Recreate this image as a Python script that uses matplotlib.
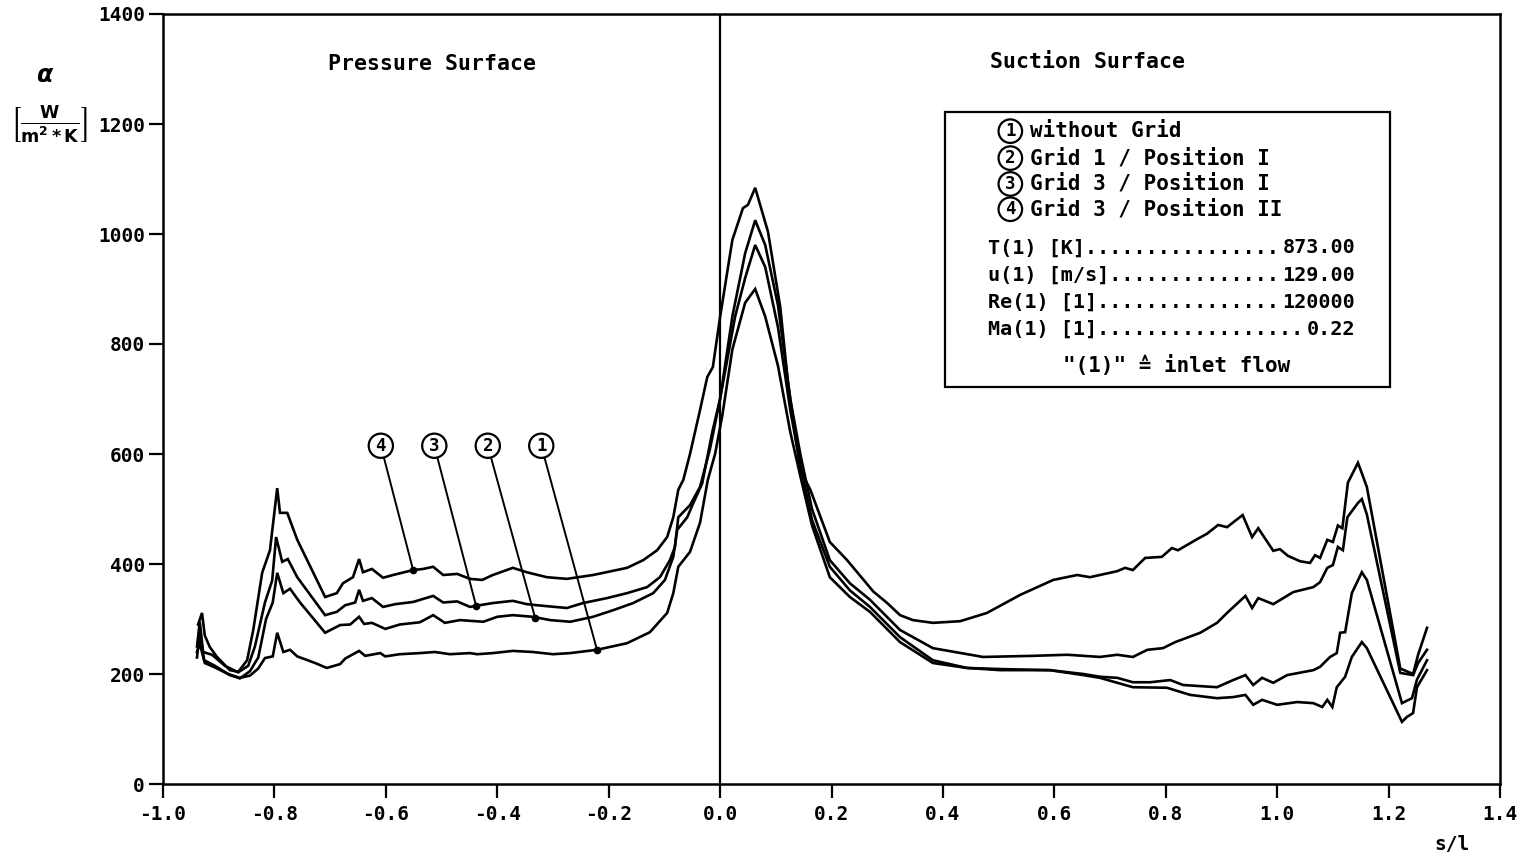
import numpy as np
import matplotlib
matplotlib.use("Agg")
import matplotlib.pyplot as plt
from matplotlib.patches import Rectangle

# s/l positions and heat transfer coefficient alpha [W/(m^2 K)]
s1 = [-0.939, -0.934, -0.925, -0.907, -0.883, -0.862, -0.844, -0.829, -0.817, -0.803, -0.795, -0.784, -0.772, -0.759,
      -0.727, -0.706, -0.682, -0.673, -0.648, -0.637, -0.610, -0.601, -0.575, -0.539, -0.512, -0.485, -0.449, -0.436,
      -0.408, -0.372, -0.336, -0.300, -0.269, -0.221, -0.167, -0.126, -0.095, -0.084, -0.075, -0.054, -0.036, -0.022,
      -0.009, 0.004, 0.022, 0.045, 0.063, 0.081, 0.104, 0.126, 0.144, 0.165, 0.197, 0.233, 0.269, 0.323, 0.382, 0.443,
      0.503, 0.592, 0.652, 0.682, 0.713, 0.741, 0.802, 0.844, 0.892, 0.921, 0.943, 0.957, 0.973, 1.000, 1.036, 1.065,
      1.081, 1.090, 1.099, 1.107, 1.122, 1.134, 1.152, 1.161, 1.224, 1.233, 1.244, 1.251, 1.269]
a1 = [240, 255, 220, 212, 200, 193, 197, 210, 229, 232, 275, 240, 244, 232, 220, 211, 218, 228, 242, 233, 238, 232,
      236, 238, 240, 236, 238, 236, 238, 242, 240, 236, 238, 244, 256, 276, 311, 347, 395, 422, 475, 553, 600, 670,
      790, 875, 900, 850, 760, 640, 560, 470, 376, 340, 313, 258, 220, 211, 207, 207, 198, 193, 184, 176, 175, 162,
      156, 158, 162, 144, 153, 144, 149, 147, 140, 153, 140, 176, 195, 231, 258, 247, 113, 122, 129, 176, 207]

s2 = [-0.939, -0.934, -0.926, -0.907, -0.880, -0.862, -0.844, -0.829, -0.815, -0.803, -0.795, -0.784, -0.772, -0.754,
      -0.709, -0.682, -0.664, -0.648, -0.639, -0.625, -0.601, -0.575, -0.539, -0.515, -0.494, -0.467, -0.425, -0.400,
      -0.372, -0.336, -0.305, -0.269, -0.228, -0.192, -0.156, -0.120, -0.099, -0.084, -0.077, -0.059, -0.048, -0.032,
      -0.014, 0.0, 0.027, 0.045, 0.063, 0.081, 0.104, 0.126, 0.144, 0.165, 0.197, 0.233, 0.269, 0.323, 0.382, 0.443,
      0.503, 0.592, 0.652, 0.682, 0.713, 0.741, 0.772, 0.808, 0.831, 0.892, 0.921, 0.943, 0.957, 0.973, 0.993, 1.018,
      1.065, 1.077, 1.095, 1.107, 1.113, 1.122, 1.134, 1.152, 1.161, 1.224, 1.242, 1.251, 1.269]
a2 = [230, 275, 225, 215, 198, 192, 205, 230, 300, 330, 384, 347, 355, 330, 275, 289, 290, 304, 291, 293, 282, 290,
      294, 307, 293, 298, 295, 304, 307, 304, 298, 295, 304, 316, 329, 347, 371, 413, 462, 485, 511, 547, 640, 700,
      850, 920, 980, 940, 830, 680, 580, 480, 395, 352, 322, 267, 225, 211, 209, 207, 200, 195, 193, 185, 185, 189,
      180, 176, 189, 198, 180, 193, 184, 198, 207, 213, 231, 238, 275, 276, 347, 385, 371, 147, 156, 190, 225]

s3 = [-0.939, -0.934, -0.928, -0.912, -0.889, -0.865, -0.847, -0.835, -0.817, -0.804, -0.797, -0.786, -0.776, -0.759,
      -0.709, -0.688, -0.673, -0.655, -0.648, -0.641, -0.625, -0.605, -0.583, -0.551, -0.515, -0.497, -0.472, -0.449,
      -0.438, -0.408, -0.372, -0.347, -0.318, -0.275, -0.246, -0.203, -0.167, -0.131, -0.108, -0.090, -0.081, -0.075,
      -0.054, -0.036, -0.018, 0.0, 0.022, 0.045, 0.063, 0.081, 0.104, 0.126, 0.144, 0.165, 0.197, 0.233, 0.269, 0.323,
      0.382, 0.472, 0.562, 0.623, 0.682, 0.713, 0.741, 0.767, 0.795, 0.817, 0.862, 0.892, 0.910, 0.943, 0.955, 0.966,
      0.993, 1.029, 1.065, 1.077, 1.090, 1.100, 1.109, 1.118, 1.126, 1.145, 1.152, 1.161, 1.221, 1.244, 1.253, 1.269]
a3 = [250, 295, 240, 235, 215, 203, 215, 250, 330, 370, 449, 404, 409, 376, 307, 313, 325, 330, 353, 333, 338, 322,
      327, 331, 342, 330, 332, 322, 324, 329, 333, 327, 324, 320, 329, 338, 347, 358, 376, 407, 431, 485, 507, 540,
      610, 700, 850, 965, 1025, 980, 870, 700, 600, 500, 407, 365, 335, 280, 247, 231, 233, 235, 231, 235, 231, 244,
      247, 258, 275, 293, 311, 342, 320, 338, 327, 349, 358, 367, 393, 398, 431, 425, 485, 511, 518, 490, 202, 198,
      220, 244]

s4 = [-0.937, -0.930, -0.925, -0.916, -0.903, -0.880, -0.865, -0.849, -0.838, -0.822, -0.808, -0.795, -0.790, -0.777,
      -0.759, -0.709, -0.688, -0.677, -0.659, -0.648, -0.641, -0.625, -0.605, -0.587, -0.551, -0.533, -0.515, -0.497,
      -0.472, -0.449, -0.427, -0.408, -0.372, -0.347, -0.311, -0.275, -0.228, -0.167, -0.138, -0.113, -0.095, -0.084,
      -0.075, -0.066, -0.054, -0.036, -0.023, -0.013, 0.0, 0.022, 0.041, 0.050, 0.063, 0.086, 0.108, 0.122, 0.144,
      0.162, 0.197, 0.228, 0.275, 0.300, 0.323, 0.346, 0.382, 0.431, 0.479, 0.539, 0.598, 0.641, 0.664, 0.713, 0.727,
      0.741, 0.763, 0.793, 0.811, 0.822, 0.856, 0.874, 0.894, 0.910, 0.938, 0.955, 0.966, 0.993, 1.005, 1.019, 1.041,
      1.059, 1.068, 1.077, 1.090, 1.100, 1.109, 1.117, 1.127, 1.145, 1.152, 1.161, 1.221, 1.244, 1.253, 1.269]
a4 = [290, 311, 270, 249, 231, 207, 204, 225, 280, 384, 425, 538, 493, 493, 444, 340, 347, 365, 376, 409, 385, 391,
      375, 380, 389, 391, 395, 380, 382, 373, 371, 380, 393, 385, 376, 373, 380, 393, 407, 425, 449, 485, 535, 553,
      600, 680, 740, 758, 849, 989, 1047, 1053, 1084, 1004, 867, 729, 571, 535, 440, 407, 350, 329, 307, 298, 293,
      296, 311, 344, 371, 380, 376, 387, 393, 389, 411, 413, 429, 425, 445, 455, 471, 467, 489, 449, 465, 424, 427,
      415, 405, 402, 416, 411, 444, 440, 470, 465, 548, 584, 565, 540, 210, 200, 235, 284]

curves = [(s1, a1), (s2, a2), (s3, a3), (s4, a4)]

# label markers on the pressure side
marker_nums = ["1", "2", "3", "4"]
marker_pts = [(-0.221, 244), (-0.332, 302), (-0.438, 324), (-0.551, 389)]
marker_txt = [(-0.321, 615), (-0.417, 615), (-0.513, 615), (-0.609, 615)]

legend_labels = ["without Grid", "Grid 1 / Position I", "Grid 3 / Position I", "Grid 3 / Position II"]
param_labels = ["T(1) [K]", "u(1) [m/s]", "Re(1) [1]", "Ma(1) [1]"]
param_values = ["873.00", "129.00", "120000", "0.22"]

xticks = [-1.0, -0.8, -0.6, -0.4, -0.2, 0.0, 0.2, 0.4, 0.6, 0.8, 1.0, 1.2, 1.4]
yticks = [0, 200, 400, 600, 800, 1000, 1200, 1400]

mono = "DejaVu Sans Mono"
plt.rcParams['font.family'] = [mono, 'DejaVu Sans']
plt.rcParams['font.weight'] = 'bold'

fig = plt.figure(figsize=(15.28, 8.56), dpi=100)
ax = fig.add_axes([163 / 1528, 1 - 784 / 856, 1337 / 1528, 770 / 856])

for s, a in curves:
    ax.plot(s, a, color='black', lw=1.9, solid_joinstyle='miter')

ax.axvline(0.0, color='black', lw=1.6)

ax.set_xlim(-1.0, 1.4)
ax.set_ylim(0, 1400)
ax.set_xticks(xticks)
ax.set_xticklabels(["%.1f" % t for t in xticks])
ax.set_yticks(yticks)
ax.set_yticklabels([str(t) for t in yticks])
ax.tick_params(axis='both', direction='out', length=10, width=1.6, labelsize=14)
ax.tick_params(axis='y', pad=3)
ax.tick_params(axis='x', pad=5)
for sp in ax.spines.values():
    sp.set_linewidth(1.8)

# annotation circles with leader lines
for n, pt, tp in zip(marker_nums, marker_pts, marker_txt):
    ax.plot(pt[0], pt[1], 'o', color='black', ms=4.5)
    ax.annotate(n, xy=pt, xytext=tp, ha='center', va='center', fontsize=12.5,
                bbox=dict(boxstyle='circle,pad=0.18', fc='white', ec='black', lw=1.6),
                arrowprops=dict(arrowstyle='-', color='black', lw=1.4, shrinkA=0, shrinkB=0))

ax.text(-0.517, 1309, "Pressure Surface", ha='center', va='center', fontsize=15.5)
ax.text(0.659, 1313, "Suction Surface", ha='center', va='center', fontsize=15.5)

# legend box
ax.add_patch(Rectangle((0.404, 722), 0.799, 500, fill=False, ec='black', lw=1.6, zorder=3))
rows = [1187, 1138, 1091, 1045]
for n, lab, yy in zip(marker_nums, legend_labels, rows):
    ax.text(0.521, yy, n, ha='center', va='center', fontsize=12.5,
            bbox=dict(boxstyle='circle,pad=0.16', fc='white', ec='black', lw=1.6))
    ax.text(0.556, yy, lab, ha='left', va='center', fontsize=15)

# parameter rows: label, dot leaders, value
prow = [975, 925, 876, 827]
for lab, val, yy in zip(param_labels, param_values, prow):
    ax.text(0.481, yy, lab + "." * (30 - len(lab) - len(val)), ha='left', va='center', fontsize=14.5)
    ax.text(1.140, yy, val, ha='right', va='center', fontsize=14.5)
ax.text(0.820, 760, '"(1)" \u2259 inlet flow', ha='center', va='center', fontsize=15)

fig.text(45 / 1528, 1 - 75 / 856, r'$\alpha$', ha='center', va='center', fontsize=17)
fig.text(50 / 1528, 1 - 125 / 856, r'$\left[\frac{\mathbf{W}}{\mathbf{m^2 * K}}\right]$',
         ha='center', va='center', fontsize=18)
fig.text(1452 / 1528, 1 - 845 / 856, "s/l", ha='center', va='center', fontsize=14)

fig.savefig("out.png", dpi=100)
